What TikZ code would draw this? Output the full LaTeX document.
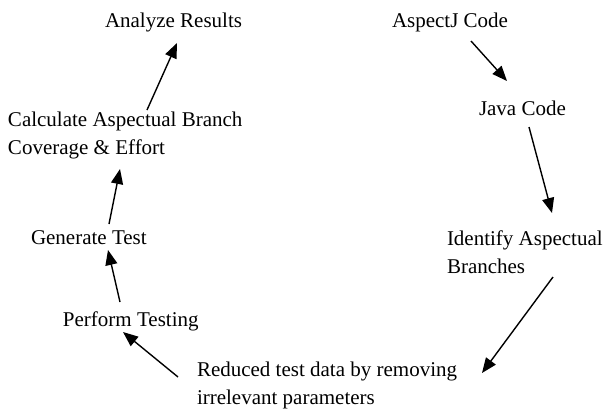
\documentclass[tikz,border=0pt]{standalone}
\usepackage{fontspec}
\setmainfont{Liberation Serif}
\usetikzlibrary{arrows.meta}
\tikzset{
  lbl/.style={anchor=base west, inner sep=0pt, outer sep=0pt, align=left, font=\fontsize{21}{28}\selectfont},
  arr/.style={line width=1.4pt, -{Triangle[length=15pt,width=12pt]}}
}
\begin{document}
\begin{tikzpicture}[x=1pt,y=-1pt]
\useasboundingbox (0,0) rectangle (606,410);
\node[lbl] (ana) at (105,27) {Analyze Results};
\node[lbl] (asp) at (392,27) {AspectJ Code};
\node[lbl] (java) at (479,115) {Java Code};
\node[lbl] (ident) at (447,273) {Identify Aspectual\\Branches};
\node[lbl] (red) at (197,404) {Reduced test data by removing\\irrelevant parameters};
\node[lbl] (perf) at (63,326) {Perform Testing};
\node[lbl] (gen) at (31,244) {Generate Test};
\node[lbl] (calc) at (8,154) {Calculate Aspectual Branch\\Coverage \& Effort};
\draw[arr] ([shift={(79,14)}]asp.base west) -- ([shift={(28,-34)}]java.base west);
\draw[arr] ([shift={(50,12)}]java.base west) -- ([shift={(105,-60)}]ident.base west);
\draw[arr] ([shift={(106,4)}]ident.base west) -- ([shift={(285,-31)}]red.base west);
\draw[arr] ([shift={(-19,-27)}]red.base west) -- ([shift={(60,6)}]perf.base west);
\draw[arr] ([shift={(57,-24)}]perf.base west) -- ([shift={(77,6)}]gen.base west);
\draw[arr] ([shift={(78,-20)}]gen.base west) -- ([shift={(112,15)}]calc.base west);
\draw[arr] ([shift={(139,-44)}]calc.base west) -- ([shift={(72,16)}]ana.base west);
\end{tikzpicture}
\end{document}
